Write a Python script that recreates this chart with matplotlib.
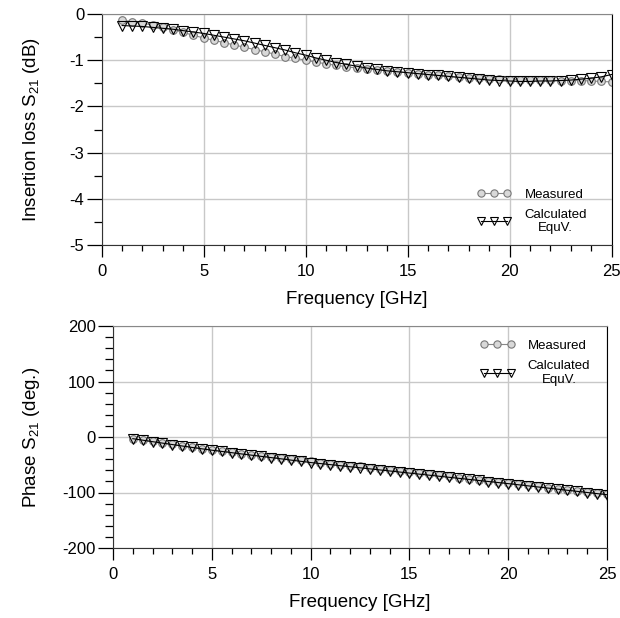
import numpy as np
import matplotlib
matplotlib.use('Agg')
import matplotlib.pyplot as plt
from matplotlib.ticker import MultipleLocator

plt.rcParams['font.family'] = ['Liberation Sans', 'DejaVu Sans']
plt.rcParams['axes.unicode_minus'] = False

# frequency points (GHz)
freq = [1, 1.5, 2, 2.5, 3, 3.5, 4, 4.5, 5, 5.5, 6, 6.5, 7, 7.5, 8, 8.5, 9, 9.5,
        10, 10.5, 11, 11.5, 12, 12.5, 13, 13.5, 14, 14.5, 15, 15.5, 16, 16.5,
        17, 17.5, 18, 18.5, 19, 19.5, 20, 20.5, 21, 21.5, 22, 22.5, 23, 23.5,
        24, 24.5, 25]

# insertion loss S21 (dB)
il_meas = [-0.13, -0.17, -0.20, -0.24, -0.29, -0.34, -0.40, -0.46, -0.52, -0.57,
           -0.62, -0.67, -0.72, -0.77, -0.82, -0.87, -0.92, -0.96, -1.00, -1.04,
           -1.08, -1.11, -1.14, -1.17, -1.19, -1.21, -1.23, -1.25, -1.27, -1.29,
           -1.31, -1.33, -1.35, -1.37, -1.38, -1.39, -1.40, -1.41, -1.42, -1.42,
           -1.43, -1.43, -1.43, -1.44, -1.44, -1.44, -1.45, -1.46, -1.47]
il_calc = [-0.25, -0.26, -0.27, -0.29, -0.31, -0.33, -0.36, -0.39, -0.42, -0.46,
           -0.50, -0.54, -0.58, -0.63, -0.68, -0.73, -0.78, -0.84, -0.89, -0.95,
           -1.00, -1.05, -1.09, -1.13, -1.17, -1.20, -1.23, -1.25, -1.27, -1.29,
           -1.31, -1.33, -1.35, -1.37, -1.39, -1.41, -1.43, -1.44, -1.45, -1.46,
           -1.46, -1.45, -1.45, -1.44, -1.43, -1.41, -1.39, -1.36, -1.31]

# phase S21 (deg)
ph_meas = [-3, -6, -8, -11, -13, -16, -18, -21, -23, -25, -27, -30, -32, -34,
           -36, -38, -40, -42, -44, -46, -48, -50, -52, -53, -55, -57, -59, -61,
           -63, -65, -67, -69, -71, -73, -75, -77, -79, -81, -83, -85, -87, -89,
           -91, -93, -95, -97, -99, -101, -102]
ph_calc = [-3, -5.7, -8.4, -11, -13.6, -16.2, -18.8, -21.3, -23.8, -26, -28.2,
           -30.5, -32.7, -34.9, -37.1, -39.3, -41.6, -43.8, -46, -47.9, -49.8,
           -51.7, -53.6, -55.5, -57.4, -59.3, -61.2, -63.1, -65, -66.9, -68.8,
           -70.7, -72.6, -74.5, -76.4, -78.3, -80.2, -82.1, -84, -86, -88, -90,
           -92, -94, -96, -98, -100, -102, -104]

fig = plt.figure(figsize=(6.2, 6.18), dpi=100)
W, H = 620.0, 618.0
ax1 = fig.add_axes([101.7 / W, 1 - 245 / H, (611.5 - 101.7) / W, (245 - 14) / H])
ax2 = fig.add_axes([113 / W, 1 - 548 / H, (607 - 113) / W, (548 - 326) / H])


def style(ax):
    ax.grid(True, color='#c8c8c8', linewidth=1.0)
    ax.set_axisbelow(True)
    ax.spines['top'].set_color('#888888')
    ax.spines['right'].set_color('black')
    ax.spines['left'].set_color('#333333')
    ax.spines['bottom'].set_color('#333333')
    ax.tick_params(axis='y', which='major', direction='out', length=10.5, width=0.9,
                   labelsize=12, pad=2)
    ax.tick_params(axis='y', which='minor', direction='out', length=5.5, width=0.9)
    ax.tick_params(axis='x', which='major', direction='out', length=8.5, width=0.9,
                   labelsize=12, pad=5)
    ax.tick_params(axis='x', which='minor', direction='out', length=4, width=0.9)
    ax.set_xlim(0, 25)
    ax.xaxis.set_major_locator(MultipleLocator(5))
    ax.xaxis.set_minor_locator(MultipleLocator(1))
    ax.set_xlabel('Frequency [GHz]', fontsize=13.5, labelpad=9)


def draw(ax, ym, yc):
    ax.plot(freq, ym, '-', color='#888888', linewidth=0.8, marker='o', markersize=5.5,
            markerfacecolor='#d8d8d8', markeredgecolor='#777777', markeredgewidth=0.8,
            label='Measured')
    ax.plot(freq, yc, '-', color='black', linewidth=0.8, marker='v', markersize=6.5,
            markerfacecolor='none', markeredgecolor='black', markeredgewidth=0.8,
            label='Calculated\nEquV.')


draw(ax1, il_meas, il_calc)
style(ax1)
ax1.set_ylim(-5, 0)
ax1.yaxis.set_major_locator(MultipleLocator(1))
ax1.yaxis.set_minor_locator(MultipleLocator(0.5))
ax1.set_ylabel('Insertion loss S$_{\\mathregular{21}}$ (dB)', fontsize=13.5)
ax1.yaxis.set_label_coords(-0.117, 0.5)
leg1 = ax1.legend(loc='center right', bbox_to_anchor=(0.975, 0.145), frameon=False,
                  numpoints=3, handlelength=2.6, fontsize=9.5, labelspacing=0.6,
                  handletextpad=1.0, markerscale=0.95)

draw(ax2, ph_meas, ph_calc)
style(ax2)
ax2.set_ylim(-200, 200)
ax2.yaxis.set_major_locator(MultipleLocator(100))
ax2.yaxis.set_minor_locator(MultipleLocator(20))
ax2.set_ylabel('Phase S$_{\\mathregular{21}}$ (deg.)', fontsize=13.5)
ax2.yaxis.set_label_coords(-0.144, 0.5)
leg2 = ax2.legend(loc='center right', bbox_to_anchor=(0.99, 0.835), frameon=False,
                  numpoints=3, handlelength=2.6, fontsize=9.5, labelspacing=0.6,
                  handletextpad=1.0, markerscale=0.95)

for leg in (leg1, leg2):
    for t in leg.get_texts():
        t.set_multialignment('center')

fig.savefig('out.png', dpi=100)
